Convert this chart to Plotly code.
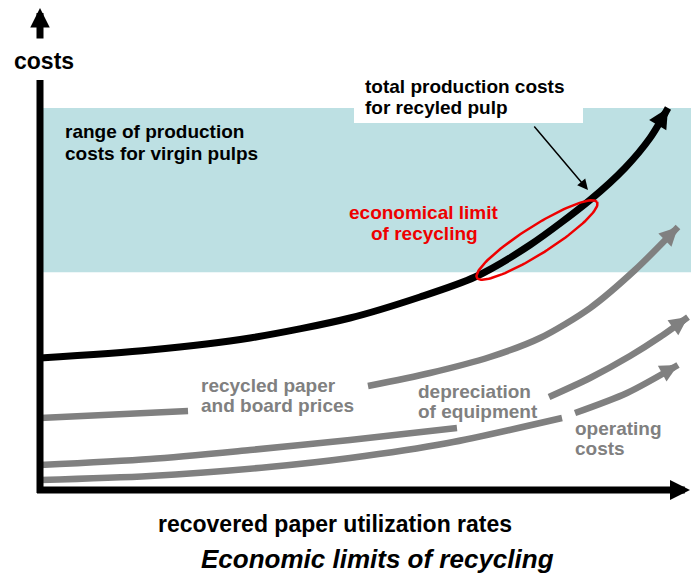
import numpy as np
import plotly.graph_objects as go

# ---- data (conceptual units: recovered paper utilization 0-100, cost index) ----
util_total = [0, 16.92, 32.31, 47.69, 58.46, 66.92, 75.38, 84.62, 90.0, 93.85, 96.62]
cost_total = [29.33, 31.11, 33.78, 38.22, 42.89, 47.33, 54.44, 64.44, 71.56, 78.22, 84.89]

util_prices = [0, 22.77, None, 50.46, 60.0, 69.23, 76.92, 84.62, 91.54, 98.15]
cost_prices = [16.0, 17.56, None, 23.11, 26.0, 29.56, 33.78, 40.44, 48.89, 58.44]

util_deprec = [0, 16.92, 32.31, 47.69, 64.15, None, 78.31, 84.62, 90.77, 95.38, 99.69]
cost_deprec = [5.56, 6.89, 8.89, 11.11, 13.78, None, 20.67, 24.89, 29.78, 34.0, 38.44]

util_operat = [0, 16.92, 35.23, 47.69, 62.77, 80.31, None, 82.31, 90.31, 98.15]
cost_operat = [2.22, 3.11, 5.11, 7.11, 10.44, 16.0, None, 17.11, 21.56, 27.78]

virgin_range = [48.4, 84.9]  # cost band for virgin pulps

# ---- layout helpers: screen pixel <-> axis units ----
W, H = 699, 573
OFF = 8  # default page body margin
X0, SX = 40.0, 6.5
Y0, SY = 490.0, 4.5
def U(px): return (px - X0) / SX
def C(py): return (Y0 - py) / SY
def PX(u): return X0 + SX * u
def PY(c): return Y0 - SY * c

GRAY = "#808080"
FONT = "Liberation Sans, Arial, sans-serif"

fig = go.Figure()
annotations = []

def head(p1, p2, color, lw, scale, tail=14):
    """arrowhead (plotly annotation style 2) with its tip at screen point p2"""
    p1 = np.array(p1, float); p2 = np.array(p2, float)
    L = np.linalg.norm(p2 - p1)
    d = (p2 - p1) / L
    a = p2 - d * (tail if tail else L)
    annotations.append(dict(
        x=U(p2[0]), y=C(p2[1]), ax=U(a[0]), ay=C(a[1]), xref="x", yref="y",
        axref="x", ayref="y", showarrow=True, arrowhead=2,
        arrowwidth=lw, arrowsize=scale / lw, arrowcolor=color, text=""))

def curve(u, c, color, width, scale):
    n = len(u)
    fig.add_trace(go.Scatter(
        x=u, y=c, mode="lines", cliponaxis=False,
        line=dict(color=color, width=width, shape="spline", smoothing=0.8,
                  backoff=[0] * (n - 1) + [12]),
        hoverinfo="skip", showlegend=False, connectgaps=False))
    head((PX(u[-2]), PY(c[-2])), (PX(u[-1]), PY(c[-1])), color, width, scale)

curve(util_operat, cost_operat, GRAY, 6.5, 3.6)
curve(util_deprec, cost_deprec, GRAY, 6.5, 3.7)
curve(util_prices, cost_prices, GRAY, 6.5, 3.7)
curve(util_total, cost_total, "black", 7, 4.0)

# ellipse marking the economical limit
t = np.linspace(0, 2 * np.pi, 121)
cx, cy, a, b, th = 537, 240, 71, 14, np.deg2rad(32.3)
ex = cx + a * np.cos(t) * np.cos(th) - b * np.sin(t) * np.sin(th)
ey = cy - (a * np.cos(t) * np.sin(th) + b * np.sin(t) * np.cos(th))
fig.add_trace(go.Scatter(x=U(ex), y=C(ey), mode="lines",
                         line=dict(color="#ee0000", width=2.5),
                         hoverinfo="skip", showlegend=False))

shapes = [
    dict(type="rect", xref="x", yref="y", x0=0, x1=U(W + 5),
         y0=virgin_range[0], y1=virgin_range[1],
         fillcolor="#bde0e3", line=dict(width=0), layer="below"),
    dict(type="rect", xref="x", yref="y", x0=U(354), x1=U(583),
         y0=C(123), y1=C(70), fillcolor="white", line=dict(width=0),
         layer="below"),
    # axes shafts
    dict(type="line", xref="x", yref="y", x0=U(37), x1=U(676), y0=C(490), y1=C(490),
         line=dict(color="black", width=7), layer="above"),
    dict(type="line", xref="x", yref="y", x0=U(40), x1=U(40), y0=C(493), y1=C(80),
         line=dict(color="black", width=7), layer="above"),
]
# axis arrowheads
head((600, 490), (690, 490), "black", 7, 4.0)
head((40, 40), (40, 8), "black", 7, 3.9, tail=None)

def txt(s, px, base, size=19, color="black", anchor="left", italic=False):
    annotations.append(dict(
        x=U(px), y=C(base - 0.35 * size), xref="x", yref="y",
        text=("<i>%s</i>" % s) if italic else s, showarrow=False,
        xanchor=anchor, yanchor="middle",
        font=dict(family=FONT, size=size, color=color, weight="bold")))

txt("costs", 44, 69, size=23, anchor="center")
txt("range of production", 63, 138)
txt("costs for virgin pulps", 63, 160)
txt("total production costs", 363, 93)
txt("for recyled pulp", 363, 114)
txt("economical limit", 424, 219, color="#ee0000", anchor="center")
txt("of recycling", 424, 240, color="#ee0000", anchor="center")
txt("recycled paper", 199, 392, color=GRAY)
txt("and board prices", 199, 412, color=GRAY)
txt("depreciation", 416, 398, color=GRAY)
txt("of equipment", 416, 418, color=GRAY)
txt("operating", 573, 435, color=GRAY)
txt("costs", 573, 455, color=GRAY)
txt("recovered paper utilization rates", 335, 532, size=23, anchor="center")
txt("Economic limits of recycling", 377, 568, size=26, anchor="center", italic=True)

annotations.append(dict(
    x=U(588), y=C(190), ax=U(533), ay=C(125), xref="x", yref="y",
    axref="x", ayref="y", showarrow=True, arrowhead=2, arrowsize=1.4,
    arrowwidth=1.5, arrowcolor="black", text=""))

fig.update_layout(
    width=W - OFF, height=H - OFF, margin=dict(l=0, r=0, t=0, b=0),
    paper_bgcolor="white", plot_bgcolor="white",
    xaxis=dict(range=[U(OFF), U(W)], visible=False, fixedrange=True),
    yaxis=dict(range=[C(H), C(OFF)], visible=False, fixedrange=True),
    shapes=shapes, annotations=annotations, showlegend=False,
)

fig.write_html("out.html", config={"displayModeBar": False})
